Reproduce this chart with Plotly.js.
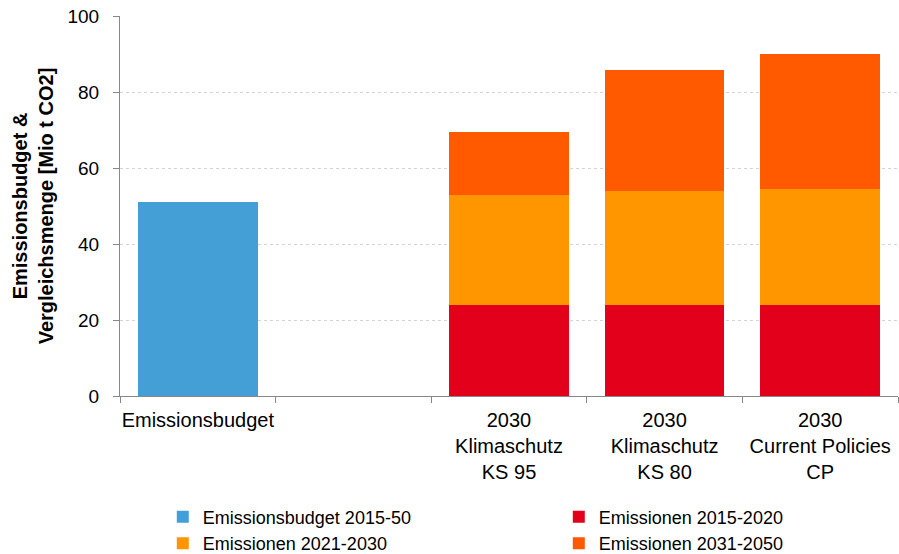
<!DOCTYPE html>
<html>
<head>
<meta charset="utf-8">
<script src="https://cdn.plot.ly/plotly-3.0.1.min.js"></script>
<style>html,body{margin:0;padding:0;background:#fff;}#chart{width:899px;height:554px;}</style>
</head>
<body>
<div id="chart"></div>
<script>
// Categories (second slot is intentionally empty)
const categories = ["Emissionsbudget", " ", "2030<br>Klimaschutz<br>KS 95", "2030<br>Klimaschutz<br>KS 80", "2030<br>Current Policies<br>CP"];
// Series values [Mio t CO2]
const budget2015_50   = [51, null, null, null, null];
const emissions15_20  = [null, null, 24, 24, 24];
const emissions21_30  = [null, null, 28.9, 29.9, 30.5];
const emissions31_50  = [null, null, 16.5, 31.8, 35.4];
const seriesNames = ["Emissionsbudget 2015-50", "Emissionen 2015-2020", "Emissionen 2021-2030", "Emissionen 2031-2050"];
const yTicks = [0, 20, 40, 60, 80, 100];

const colors = ["#459fd7", "#e2001a", "#ff9600", "#ff5a00"];
const legendOf = ["legend", "legend2", "legend", "legend2"];
const seriesValues = [budget2015_50, emissions15_20, emissions21_30, emissions31_50];

const traces = seriesValues.map((vals, i) => ({
  type: "bar",
  x: categories,
  y: vals,
  name: seriesNames[i],
  legend: legendOf[i],
  marker: {color: colors[i], line: {width: 0}},
  hoverinfo: "x+y+name"
}));

const fam = "Liberation Sans, Arial, sans-serif";
const font = {family: fam, size: 19, color: "#000"};
const legendFont = {family: fam, size: 18, color: "#000"};

const layout = {
  width: 899, height: 554,
  margin: {l: 120, r: 1, t: 16, b: 158},
  barmode: "stack",
  bargap: 0.232,
  paper_bgcolor: "#fff",
  plot_bgcolor: "#fff",
  font: font,
  showlegend: true,
  legend: {
    orientation: "v",
    x: 0.055, xanchor: "left",
    yref: "container",
    y: 0.1, yanchor: "top",
    traceorder: "normal",
    font: legendFont,
    itemwidth: 30,
    bgcolor: "rgba(0,0,0,0)"
  },
  legend2: {
    orientation: "v",
    x: 0.564, xanchor: "left",
    yref: "container",
    y: 0.1, yanchor: "top",
    traceorder: "normal",
    font: legendFont,
    itemwidth: 30,
    bgcolor: "rgba(0,0,0,0)"
  },
  xaxis: {
    type: "category",
    categoryorder: "array",
    categoryarray: categories,
    range: [-0.5, 4.5],
    tickson: "boundaries",
    ticks: "outside",
    ticklen: 6,
    tickcolor: "#888",
    tickangle: 0,
    ticklabelstandoff: 6,
    showline: true,
    linecolor: "#888",
    linewidth: 1,
    showgrid: false,
    zeroline: false,
    tickfont: {family: fam, size: 20, color: "#000"},
    automargin: false,
    fixedrange: true
  },
  yaxis: {
    range: [0, 100],
    tickvals: yTicks,
    ticktext: yTicks.map(String),
    ticks: "outside",
    ticklen: 6,
    tickcolor: "#888",
    ticklabelstandoff: 10,
    showline: true,
    linecolor: "#888",
    linewidth: 1,
    showgrid: true,
    gridcolor: "#d4d4d4",
    griddash: "dot",
    gridwidth: 1,
    zeroline: false,
    tickfont: font,
    title: {
      text: "<b>Emissionsbudget &amp;<br>Vergleichsmenge [Mio t CO2]</b>",
      font: {family: fam, size: 20, color: "#000"},
      standoff: 8
    },
    automargin: false,
    fixedrange: true
  }
};

Plotly.newPlot("chart", traces, layout, {displayModeBar: false, staticPlot: true});
</script>
</body>
</html>
